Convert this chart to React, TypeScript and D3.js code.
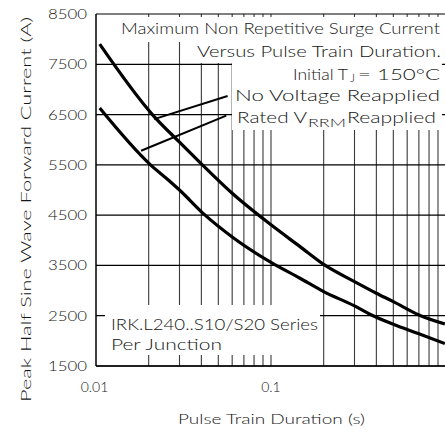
import React from "react";
import * as d3 from "d3";

// ---- data ----
const noVoltageX = [0.0105, 0.021, 0.03, 0.04, 0.06, 0.1, 0.1465, 0.2, 0.3, 0.4, 0.5, 0.7, 0.985];
const noVoltageY = [7900, 6500, 5950, 5520, 4935, 4307, 3874, 3520, 3178, 2947, 2780, 2516, 2336];
const ratedX = [0.0105, 0.0205, 0.0259, 0.03, 0.042, 0.06, 0.1, 0.1465, 0.2, 0.3, 0.367, 0.5, 0.7, 0.985];
const ratedY = [6630, 5500, 5200, 5000, 4500, 4067, 3560, 3245, 2980, 2695, 2530, 2330, 2140, 1945];
const yTicks = [1500, 2500, 3500, 4500, 5500, 6500, 7500, 8500];
const xTickValues = [0.01, 0.1];
const xTickLabels = ["0.01", "0.1"];
const minorX = [0.02, 0.03, 0.04, 0.05, 0.06, 0.07, 0.08, 0.09, 0.1, 0.2, 0.3, 0.4, 0.5, 0.6, 0.7, 0.8, 0.9];

const FONT = "Lato, 'Open Sans', sans-serif";
const INK = "#161616";

export default function App() {
  const W = 445, H = 434;
  const x = d3.scaleLog().domain([0.01, 1]).range([96, 446]);
  const y = d3.scaleLinear().domain([1500, 8500]).range([366, 14]);
  const line = d3
    .line<[number, number]>()
    .x((d) => x(d[0]))
    .y((d) => y(d[1]))
    .curve(d3.curveMonotoneX);
  const upper = line(noVoltageX.map((v, i) => [v, noVoltageY[i]] as [number, number])) || "";
  const lower = line(ratedX.map((v, i) => [v, ratedY[i]] as [number, number])) || "";

  return (
    <svg
      width={W}
      height={H}
      style={{ position: "absolute", left: 0, top: 0, background: "#fff" }}
      fontFamily={FONT}
      fontWeight={300}
    >
      <defs>
        <clipPath id="plot">
          <rect x={96} y={13} width={W - 96} height={354} />
        </clipPath>
      </defs>
      <rect x={0} y={0} width={W} height={H} fill="#fff" />
      <g clipPath="url(#plot)">
        {/* vertical grid */}
        {minorX.map((v) => (
          <line key={"v" + v} x1={x(v)} x2={x(v)} y1={14} y2={366} stroke="#3a3a3a" strokeWidth={1.1} />
        ))}
        {/* horizontal grid */}
        {yTicks.map((v) => (
          <line key={"h" + v} x1={96} x2={W} y1={y(v)} y2={y(v)} stroke="#000" strokeWidth={1.2} />
        ))}
        {/* annotation backgrounds */}
        <rect x={112} y={17} width={330} height={25} fill="#fff" />
        <rect x={190} y={42} width={252} height={21} fill="#fff" />
        <rect x={232} y={63} width={210} height={67} fill="#fff" />
        <rect x={105} y={305} width={215} height={50} fill="#fff" />
        {/* curves */}
        <path d={upper} fill="none" stroke="#000" strokeWidth={3.2} />
        <path d={lower} fill="none" stroke="#000" strokeWidth={3.2} />
        {/* leader lines */}
        <line x1={x(0.0215)} y1={y(6410)} x2={x(0.0565)} y2={y(6870)} stroke="#000" strokeWidth={2} />
        <line x1={x(0.0181)} y1={y(5780)} x2={x(0.0555)} y2={y(6480)} stroke="#000" strokeWidth={2} />
      </g>
      {/* axes frame */}
      <line x1={96} x2={96} y1={14} y2={366} stroke="#000" strokeWidth={1.5} />
      <line x1={96} x2={W} y1={366} y2={366} stroke="#000" strokeWidth={1.5} />

      {/* annotations */}
      <g fill={INK} fontSize={16}>
        <text x={121} y={34} textLength={319} lengthAdjust="spacingAndGlyphs">
          Maximum Non Repetitive Surge Current
        </text>
        <text x={197} y={57} textLength={244} lengthAdjust="spacingAndGlyphs">
          Versus Pulse Train Duration.
        </text>
        <text x={293} y={80} textLength={55} lengthAdjust="spacingAndGlyphs">
          Initial T
        </text>
        <text x={350} y={82} fontSize={11} textLength={5} lengthAdjust="spacingAndGlyphs">
          J
        </text>
        <text x={358} y={80} textLength={82} lengthAdjust="spacingAndGlyphs">
          = 150°C
        </text>
        <text x={235} y={101} textLength={205} lengthAdjust="spacingAndGlyphs">
          No Voltage Reapplied
        </text>
        <text x={237} y={123} textLength={70} lengthAdjust="spacingAndGlyphs">
          Rated V
        </text>
        <text x={308} y={127} fontSize={12} textLength={38} lengthAdjust="spacingAndGlyphs">
          RRM
        </text>
        <text x={347} y={123} textLength={89} lengthAdjust="spacingAndGlyphs">
          Reapplied
        </text>
        <text x={111} y={330} textLength={207} lengthAdjust="spacingAndGlyphs">
          IRK.L240..S10/S20 Series
        </text>
        <text x={111} y={350} textLength={111} lengthAdjust="spacingAndGlyphs">
          Per Junction
        </text>
      </g>

      {/* axis labels */}
      <g fill={INK} fontSize={14}>
        {yTicks.map((v) => (
          <text
            key={"yt" + v}
            x={87}
            y={y(v) + 5}
            textAnchor="end"
            textLength={39}
            lengthAdjust="spacingAndGlyphs"
          >
            {String(v)}
          </text>
        ))}
        {xTickValues.map((v, i) => (
          <text key={"xt" + v} x={x(v) - (i === 0 ? 1.5 : 0)} y={392} textAnchor="middle">
            {xTickLabels[i]}
          </text>
        ))}
        <text x={178} y={424} textLength={187} lengthAdjust="spacingAndGlyphs">
          Pulse Train Duration (s)
        </text>
        <text
          transform="translate(31,209.5) rotate(-90)"
          textAnchor="middle"
          textLength={385}
          lengthAdjust="spacingAndGlyphs"
        >
          Peak Half Sine Wave Forward Current (A)
        </text>
      </g>
    </svg>
  );
}
